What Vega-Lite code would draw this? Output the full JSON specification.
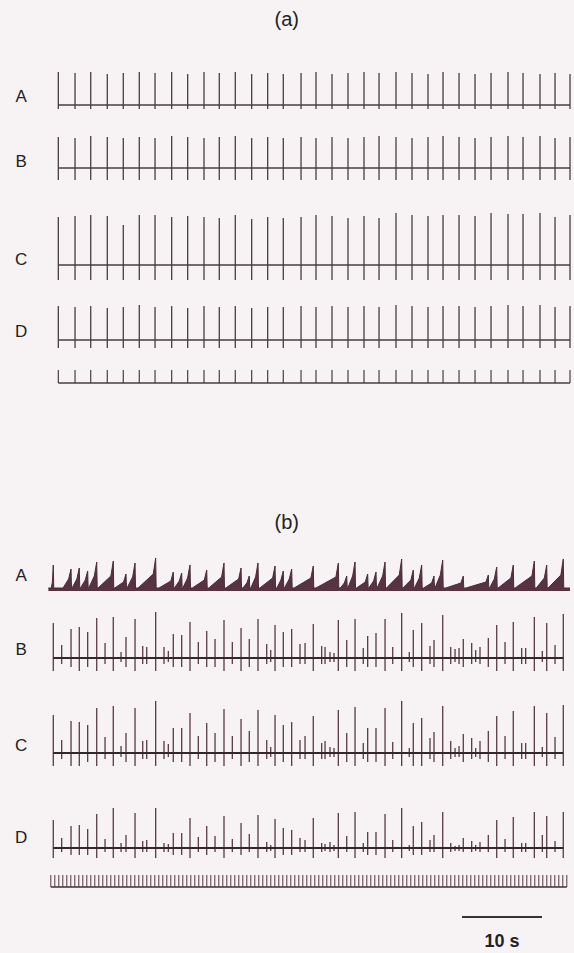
{
"$schema":"https://vega.github.io/schema/vega-lite/v6.json",
"background":"#f7f3f5","padding":0,"spacing":0,"bounds":"flush",
"config":{"view":{"stroke":null},"axis":{"disable":true},"text":{"font":"Liberation Sans"}},
"resolve":{"scale":{"x":"independent","y":"independent"}},
"datasets":{
"a":[{"t":1.04,"A":33,"B":31,"C":48,"D":34},{"t":3.13,"A":32,"B":30,"C":49,"D":33},{"t":5.09,"A":33,"B":32,"C":50,"D":34},{"t":7.16,"A":31,"B":31,"C":49,"D":32},{"t":9.16,"A":32,"B":30,"C":40,"D":33},{"t":11.16,"A":33,"B":31,"C":50,"D":35},{"t":13.13,"A":32,"B":30,"C":50,"D":33},{"t":15.21,"A":33,"B":32,"C":48,"D":34},{"t":17.21,"A":31,"B":31,"C":49,"D":32},{"t":19.25,"A":33,"B":30,"C":48,"D":34},{"t":21.16,"A":32,"B":31,"C":47,"D":33},{"t":23.16,"A":33,"B":32,"C":50,"D":34},{"t":25.21,"A":31,"B":30,"C":46,"D":32},{"t":27.21,"A":32,"B":31,"C":48,"D":33},{"t":29.16,"A":31,"B":30,"C":47,"D":33},{"t":31.38,"A":32,"B":31,"C":48,"D":34},{"t":33.25,"A":33,"B":30,"C":50,"D":33},{"t":35.25,"A":31,"B":31,"C":49,"D":34},{"t":37.25,"A":32,"B":30,"C":47,"D":33},{"t":39.25,"A":33,"B":31,"C":49,"D":34},{"t":41.13,"A":32,"B":32,"C":47,"D":33},{"t":43.25,"A":33,"B":31,"C":52,"D":35},{"t":45.25,"A":32,"B":30,"C":50,"D":34},{"t":47.25,"A":31,"B":31,"C":49,"D":33},{"t":49.13,"A":33,"B":32,"C":50,"D":34},{"t":51.13,"A":32,"B":31,"C":50,"D":34},{"t":53.13,"A":31,"B":30,"C":49,"D":33},{"t":55.13,"A":32,"B":31,"C":52,"D":34},{"t":57.25,"A":33,"B":32,"C":51,"D":35},{"t":59.13,"A":32,"B":31,"C":51,"D":34},{"t":61.25,"A":31,"B":32,"C":52,"D":35},{"t":63.13,"A":32,"B":30,"C":48,"D":33},{"t":65.0,"A":31,"B":31,"C":50,"D":34}],
"b":[{"t":0.41,"B":35,"Bl":-13,"C":38,"Cl":-13,"D":28,"Dl":-10},{"t":1.46,"B":13,"Bl":-6,"C":13,"Cl":-6,"D":10,"Dl":-4},{"t":2.63,"B":29,"Bl":-9,"C":32,"Cl":-13,"D":22,"Dl":-7},{"t":3.66,"B":31,"Bl":-13,"C":31,"Cl":-13,"D":23,"Dl":-7},{"t":4.71,"B":26,"Bl":-9,"C":28,"Cl":-9,"D":19,"Dl":-7},{"t":5.84,"B":40,"Bl":-13,"C":45,"Cl":-13,"D":34,"Dl":-10},{"t":6.88,"B":15,"Bl":-6,"C":16,"Cl":-6,"D":9,"Dl":-4},{"t":7.91,"B":41,"Bl":-13,"C":47,"Cl":-13,"D":40,"Dl":-10},{"t":8.88,"B":6,"Bl":-4,"C":7,"Cl":-4,"D":5,"Dl":-4},{"t":9.5,"B":21,"Bl":-9,"C":20,"Cl":-9,"D":13,"Dl":-4},{"t":10.63,"B":39,"Bl":-13,"C":45,"Cl":-13,"D":35,"Dl":-10},{"t":11.59,"B":12,"Bl":-6,"C":12,"Cl":-6,"D":7,"Dl":-4},{"t":12.09,"B":11,"Bl":-6,"C":13,"Cl":-6,"D":8,"Dl":-4},{"t":13.21,"B":46,"Bl":-13,"C":52,"Cl":-13,"D":40,"Dl":-10},{"t":14.25,"B":11,"Bl":-6,"C":12,"Cl":-6,"D":5,"Dl":-4},{"t":14.79,"B":7,"Bl":-4,"C":9,"Cl":-4,"D":4,"Dl":-4},{"t":15.41,"B":24,"Bl":-9,"C":25,"Cl":-9,"D":15,"Dl":-7},{"t":16.46,"B":23,"Bl":-9,"C":25,"Cl":-9,"D":15,"Dl":-7},{"t":17.5,"B":36,"Bl":-13,"C":40,"Cl":-13,"D":30,"Dl":-10},{"t":18.54,"B":16,"Bl":-6,"C":17,"Cl":-6,"D":11,"Dl":-4},{"t":19.59,"B":27,"Bl":-9,"C":30,"Cl":-13,"D":22,"Dl":-7},{"t":20.63,"B":19,"Bl":-9,"C":20,"Cl":-9,"D":12,"Dl":-4},{"t":21.75,"B":38,"Bl":-13,"C":44,"Cl":-13,"D":32,"Dl":-10},{"t":22.79,"B":16,"Bl":-6,"C":17,"Cl":-6,"D":9,"Dl":-4},{"t":23.88,"B":30,"Bl":-13,"C":34,"Cl":-13,"D":25,"Dl":-7},{"t":24.91,"B":19,"Bl":-9,"C":22,"Cl":-9,"D":14,"Dl":-4},{"t":26.0,"B":39,"Bl":-13,"C":43,"Cl":-13,"D":33,"Dl":-10},{"t":27.09,"B":14,"Bl":-6,"C":13,"Cl":-6,"D":6,"Dl":-4},{"t":27.59,"B":8,"Bl":-4,"C":6,"Cl":-4,"D":3,"Dl":-3},{"t":28.13,"B":33,"Bl":-13,"C":38,"Cl":-13,"D":29,"Dl":-10},{"t":29.16,"B":26,"Bl":-9,"C":28,"Cl":-9,"D":20,"Dl":-7},{"t":30.21,"B":29,"Bl":-9,"C":31,"Cl":-13,"D":18,"Dl":-7},{"t":31.25,"B":14,"Bl":-6,"C":13,"Cl":-6,"D":10,"Dl":-4},{"t":31.88,"B":15,"Bl":-6,"C":17,"Cl":-6,"D":8,"Dl":-4},{"t":32.91,"B":34,"Bl":-13,"C":37,"Cl":-13,"D":30,"Dl":-10},{"t":33.96,"B":12,"Bl":-6,"C":10,"Cl":-6,"D":5,"Dl":-4},{"t":34.38,"B":11,"Bl":-6,"C":12,"Cl":-6,"D":4,"Dl":-3},{"t":35.0,"B":6,"Bl":-4,"C":6,"Cl":-4,"D":6,"Dl":-4},{"t":35.5,"B":5,"Bl":-4,"C":5,"Cl":-4,"D":3,"Dl":-3},{"t":36.04,"B":38,"Bl":-13,"C":43,"Cl":-13,"D":35,"Dl":-10},{"t":37.09,"B":18,"Bl":-9,"C":20,"Cl":-9,"D":12,"Dl":-4},{"t":38.13,"B":39,"Bl":-13,"C":46,"Cl":-13,"D":36,"Dl":-10},{"t":39.16,"B":10,"Bl":-6,"C":10,"Cl":-6,"D":5,"Dl":-4},{"t":39.71,"B":22,"Bl":-9,"C":25,"Cl":-9,"D":16,"Dl":-7},{"t":40.75,"B":25,"Bl":-9,"C":25,"Cl":-9,"D":16,"Dl":-7},{"t":41.88,"B":39,"Bl":-13,"C":45,"Cl":-13,"D":34,"Dl":-10},{"t":42.84,"B":11,"Bl":-6,"C":11,"Cl":-6,"D":8,"Dl":-4},{"t":43.96,"B":45,"Bl":-13,"C":52,"Cl":-13,"D":40,"Dl":-10},{"t":44.91,"B":6,"Bl":-4,"C":5,"Cl":-4,"D":3,"Dl":-3},{"t":45.41,"B":28,"Bl":-9,"C":30,"Cl":-13,"D":22,"Dl":-7},{"t":46.46,"B":35,"Bl":-13,"C":35,"Cl":-13,"D":26,"Dl":-7},{"t":47.5,"B":12,"Bl":-6,"C":15,"Cl":-6,"D":8,"Dl":-4},{"t":48.0,"B":18,"Bl":-9,"C":21,"Cl":-9,"D":13,"Dl":-4},{"t":49.09,"B":43,"Bl":-13,"C":47,"Cl":-13,"D":36,"Dl":-10},{"t":50.09,"B":11,"Bl":-6,"C":12,"Cl":-6,"D":5,"Dl":-4},{"t":50.63,"B":9,"Bl":-4,"C":5,"Cl":-4,"D":2,"Dl":-3},{"t":51.13,"B":10,"Bl":-6,"C":7,"Cl":-4,"D":3,"Dl":-3},{"t":51.66,"B":19,"Bl":-9,"C":19,"Cl":-9,"D":10,"Dl":-4},{"t":52.71,"B":15,"Bl":-6,"C":15,"Cl":-6,"D":7,"Dl":-4},{"t":53.21,"B":8,"Bl":-4,"C":5,"Cl":-4,"D":3,"Dl":-3},{"t":53.75,"B":11,"Bl":-6,"C":12,"Cl":-6,"D":6,"Dl":-4},{"t":54.79,"B":20,"Bl":-9,"C":22,"Cl":-9,"D":13,"Dl":-4},{"t":55.84,"B":33,"Bl":-13,"C":37,"Cl":-13,"D":28,"Dl":-10},{"t":56.88,"B":16,"Bl":-6,"C":17,"Cl":-6,"D":9,"Dl":-4},{"t":57.91,"B":36,"Bl":-13,"C":42,"Cl":-13,"D":31,"Dl":-10},{"t":58.96,"B":10,"Bl":-6,"C":10,"Cl":-6,"D":5,"Dl":-4},{"t":59.46,"B":10,"Bl":-6,"C":10,"Cl":-6,"D":5,"Dl":-4},{"t":60.54,"B":41,"Bl":-13,"C":47,"Cl":-13,"D":36,"Dl":-10},{"t":61.54,"B":7,"Bl":-4,"C":6,"Cl":-4,"D":13,"Dl":-4},{"t":62.09,"B":35,"Bl":-13,"C":40,"Cl":-13,"D":32,"Dl":-10},{"t":63.13,"B":13,"Bl":-6,"C":16,"Cl":-6,"D":7,"Dl":-4},{"t":64.16,"B":44,"Bl":-13,"C":48,"Cl":-13,"D":36,"Dl":-10}],
"bA":[{"t":-0.2,"v":0},{"t":0.15,"v":0},{"t":0.3,"v":6},{"t":0.41,"v":23},{"t":0.47,"v":0},
{"t":1.63,"v":0},{"t":2.33,"v":9},{"t":2.63,"v":19},{"t":2.69,"v":0},
{"t":2.76,"v":0},{"t":3.36,"v":9},{"t":3.66,"v":20},{"t":3.72,"v":0},
{"t":3.81,"v":0},{"t":4.41,"v":8},{"t":4.71,"v":17},{"t":4.77,"v":0},
{"t":4.84,"v":0},{"t":5.54,"v":12},{"t":5.84,"v":26},{"t":5.9,"v":0},
{"t":6.01,"v":0},{"t":7.61,"v":12},{"t":7.91,"v":27},{"t":7.97,"v":0},
{"t":8.1,"v":0},{"t":9.2,"v":6},{"t":9.5,"v":14},{"t":9.56,"v":0},
{"t":9.63,"v":0},{"t":10.33,"v":11},{"t":10.63,"v":25},{"t":10.69,"v":0},
{"t":11.01,"v":0},{"t":12.91,"v":14},{"t":13.21,"v":30},{"t":13.27,"v":0},
{"t":13.61,"v":0},{"t":15.11,"v":7},{"t":15.41,"v":16},{"t":15.47,"v":0},
{"t":15.56,"v":0},{"t":16.16,"v":7},{"t":16.46,"v":15},{"t":16.52,"v":0},
{"t":16.6,"v":0},{"t":17.2,"v":10},{"t":17.5,"v":23},{"t":17.56,"v":0},
{"t":17.79,"v":0},{"t":19.29,"v":8},{"t":19.59,"v":18},{"t":19.65,"v":0},
{"t":19.85,"v":0},{"t":21.45,"v":11},{"t":21.75,"v":25},{"t":21.81,"v":0},
{"t":21.98,"v":0},{"t":23.58,"v":9},{"t":23.88,"v":20},{"t":23.94,"v":0},
{"t":24.11,"v":0},{"t":24.61,"v":5},{"t":24.91,"v":12},{"t":24.97,"v":0},
{"t":25.1,"v":0},{"t":25.7,"v":11},{"t":26.0,"v":25},{"t":26.06,"v":0},
{"t":26.23,"v":0},{"t":27.83,"v":10},{"t":28.13,"v":22},{"t":28.19,"v":0},
{"t":28.36,"v":0},{"t":28.86,"v":8},{"t":29.16,"v":17},{"t":29.22,"v":0},
{"t":29.31,"v":0},{"t":29.91,"v":9},{"t":30.21,"v":19},{"t":30.27,"v":0},
{"t":30.51,"v":0},{"t":32.61,"v":10},{"t":32.91,"v":22},{"t":32.97,"v":0},
{"t":33.24,"v":0},{"t":35.74,"v":11},{"t":36.04,"v":25},{"t":36.1,"v":0},
{"t":36.29,"v":0},{"t":36.79,"v":5},{"t":37.09,"v":12},{"t":37.15,"v":0},
{"t":37.23,"v":0},{"t":37.83,"v":12},{"t":38.13,"v":26},{"t":38.19,"v":0},
{"t":38.31,"v":0},{"t":39.41,"v":6},{"t":39.71,"v":14},{"t":39.77,"v":0},
{"t":39.85,"v":0},{"t":40.45,"v":7},{"t":40.75,"v":16},{"t":40.81,"v":0},
{"t":40.88,"v":0},{"t":41.58,"v":12},{"t":41.88,"v":26},{"t":41.94,"v":0},
{"t":42.06,"v":0},{"t":43.66,"v":13},{"t":43.96,"v":29},{"t":44.02,"v":0},
{"t":44.11,"v":0},{"t":45.11,"v":8},{"t":45.41,"v":18},{"t":45.47,"v":0},
{"t":45.56,"v":0},{"t":46.16,"v":10},{"t":46.46,"v":23},{"t":46.52,"v":0},
{"t":46.7,"v":0},{"t":47.7,"v":5},{"t":48.0,"v":12},{"t":48.06,"v":0},
{"t":48.12,"v":0},{"t":48.79,"v":13},{"t":49.09,"v":28},{"t":49.15,"v":0},
{"t":49.46,"v":0},{"t":51.36,"v":5},{"t":51.66,"v":12},{"t":51.72,"v":0},
{"t":51.99,"v":0},{"t":54.49,"v":6},{"t":54.79,"v":13},{"t":54.85,"v":0},
{"t":54.94,"v":0},{"t":55.54,"v":9},{"t":55.84,"v":21},{"t":55.9,"v":0},
{"t":56.01,"v":0},{"t":57.61,"v":10},{"t":57.91,"v":23},{"t":57.97,"v":0},
{"t":58.14,"v":0},{"t":60.24,"v":12},{"t":60.54,"v":27},{"t":60.6,"v":0},
{"t":60.79,"v":0},{"t":61.79,"v":10},{"t":62.09,"v":23},{"t":62.15,"v":0},
{"t":62.26,"v":0},{"t":63.86,"v":13},{"t":64.16,"v":29},{"t":64.22,"v":0},
{"t":65.0,"v":0}],
"mk":[{"t":0.1},{"t":0.6},{"t":1.1},{"t":1.6},{"t":2.1},{"t":2.6},{"t":3.1},{"t":3.6},{"t":4.1},{"t":4.6},{"t":5.1},{"t":5.6},{"t":6.1},{"t":6.6},{"t":7.1},{"t":7.6},{"t":8.1},{"t":8.6},{"t":9.1},{"t":9.6},{"t":10.1},{"t":10.6},{"t":11.1},{"t":11.6},{"t":12.1},{"t":12.6},{"t":13.1},{"t":13.6},{"t":14.1},{"t":14.6},{"t":15.1},{"t":15.6},{"t":16.1},{"t":16.6},{"t":17.1},{"t":17.6},{"t":18.1},{"t":18.6},{"t":19.1},{"t":19.6},{"t":20.1},{"t":20.6},{"t":21.1},{"t":21.6},{"t":22.1},{"t":22.6},{"t":23.1},{"t":23.6},{"t":24.1},{"t":24.6},{"t":25.1},{"t":25.6},{"t":26.1},{"t":26.6},{"t":27.1},{"t":27.6},{"t":28.1},{"t":28.6},{"t":29.1},{"t":29.6},{"t":30.1},{"t":30.6},{"t":31.1},{"t":31.6},{"t":32.1},{"t":32.6},{"t":33.1},{"t":33.6},{"t":34.1},{"t":34.6},{"t":35.1},{"t":35.6},{"t":36.1},{"t":36.6},{"t":37.1},{"t":37.6},{"t":38.1},{"t":38.6},{"t":39.1},{"t":39.6},{"t":40.1},{"t":40.6},{"t":41.1},{"t":41.6},{"t":42.1},{"t":42.6},{"t":43.1},{"t":43.6},{"t":44.1},{"t":44.6},{"t":45.1},{"t":45.6},{"t":46.1},{"t":46.6},{"t":47.1},{"t":47.6},{"t":48.1},{"t":48.6},{"t":49.1},{"t":49.6},{"t":50.1},{"t":50.6},{"t":51.1},{"t":51.6},{"t":52.1},{"t":52.6},{"t":53.1},{"t":53.6},{"t":54.1},{"t":54.6},{"t":55.1},{"t":55.6},{"t":56.1},{"t":56.6},{"t":57.1},{"t":57.6},{"t":58.1},{"t":58.6},{"t":59.1},{"t":59.6},{"t":60.1},{"t":60.6},{"t":61.1},{"t":61.6},{"t":62.1},{"t":62.6},{"t":63.1},{"t":63.6},{"t":64.1},{"t":64.6}]
},
"vconcat":[
{"width":574,"height":55,"data":{"values":[{"s":"(a)"}]},"mark":{"type":"text","fontSize":20,"color":"#222222"},
 "encoding":{"x":{"datum":29.6,"type":"quantitative","scale":{"domain":[-6.25,65.5],"nice":false,"zero":false}},"y":{"datum":35,"type":"quantitative","scale":{"domain":[0,55],"nice":false,"zero":false}},"text":{"field":"s"}}},
{"width":574,"height":65,"layer":[
 {"data":{"name":"a"},"mark":{"type":"line","color":"#4a3d42","strokeWidth":1.3},"encoding":{"x":{"field":"t","type":"quantitative","scale":{"domain":[-6.25,65.5],"nice":false,"zero":false}},"y":{"datum":0,"type":"quantitative","scale":{"domain":[-15,50],"nice":false,"zero":false}}}},
 {"data":{"name":"a"},"mark":{"type":"rule","color":"#4a3d42","strokeWidth":1.3},"encoding":{"x":{"field":"t","type":"quantitative","scale":{"domain":[-6.25,65.5],"nice":false,"zero":false}},"y":{"field":"A","type":"quantitative","scale":{"domain":[-15,50],"nice":false,"zero":false}},"y2":{"datum":-4}}},
 {"data":{"values":[{"s":"A"}]},"mark":{"type":"text","fontSize":17,"color":"#222222"},"encoding":{"x":{"datum":-3.6,"type":"quantitative","scale":{"domain":[-6.25,65.5],"nice":false,"zero":false}},"y":{"datum":8,"type":"quantitative","scale":{"domain":[-15,50],"nice":false,"zero":false}},"text":{"field":"s"}}}
]},
{"width":574,"height":70,"layer":[
 {"data":{"name":"a"},"mark":{"type":"line","color":"#4a3d42","strokeWidth":1.4},"encoding":{"x":{"field":"t","type":"quantitative","scale":{"domain":[-6.25,65.5],"nice":false,"zero":false}},"y":{"datum":0,"type":"quantitative","scale":{"domain":[-22,48],"nice":false,"zero":false}}}},
 {"data":{"name":"a"},"mark":{"type":"rule","color":"#4a3d42","strokeWidth":1.3},"encoding":{"x":{"field":"t","type":"quantitative","scale":{"domain":[-6.25,65.5],"nice":false,"zero":false}},"y":{"field":"B","type":"quantitative","scale":{"domain":[-22,48],"nice":false,"zero":false}},"y2":{"datum":-12}}},
 {"data":{"values":[{"s":"B"}]},"mark":{"type":"text","fontSize":17,"color":"#222222"},"encoding":{"x":{"datum":-3.6,"type":"quantitative","scale":{"domain":[-6.25,65.5],"nice":false,"zero":false}},"y":{"datum":6,"type":"quantitative","scale":{"domain":[-22,48],"nice":false,"zero":false}},"text":{"field":"s"}}}
]},
{"width":574,"height":110,"layer":[
 {"data":{"name":"a"},"mark":{"type":"line","color":"#4a3d42","strokeWidth":1.4},"encoding":{"x":{"field":"t","type":"quantitative","scale":{"domain":[-6.25,65.5],"nice":false,"zero":false}},"y":{"datum":0,"type":"quantitative","scale":{"domain":[-35,75],"nice":false,"zero":false}}}},
 {"data":{"name":"a"},"mark":{"type":"rule","color":"#4a3d42","strokeWidth":1.3},"encoding":{"x":{"field":"t","type":"quantitative","scale":{"domain":[-6.25,65.5],"nice":false,"zero":false}},"y":{"field":"C","type":"quantitative","scale":{"domain":[-35,75],"nice":false,"zero":false}},"y2":{"datum":-15}}},
 {"data":{"values":[{"s":"C"}]},"mark":{"type":"text","fontSize":17,"color":"#222222"},"encoding":{"x":{"datum":-3.6,"type":"quantitative","scale":{"domain":[-6.25,65.5],"nice":false,"zero":false}},"y":{"datum":5,"type":"quantitative","scale":{"domain":[-35,75],"nice":false,"zero":false}},"text":{"field":"s"}}}
]},
{"width":574,"height":60,"layer":[
 {"data":{"name":"a"},"mark":{"type":"line","color":"#4a3d42","strokeWidth":1.4},"encoding":{"x":{"field":"t","type":"quantitative","scale":{"domain":[-6.25,65.5],"nice":false,"zero":false}},"y":{"datum":0,"type":"quantitative","scale":{"domain":[-20,40],"nice":false,"zero":false}}}},
 {"data":{"name":"a"},"mark":{"type":"rule","color":"#4a3d42","strokeWidth":1.3},"encoding":{"x":{"field":"t","type":"quantitative","scale":{"domain":[-6.25,65.5],"nice":false,"zero":false}},"y":{"field":"D","type":"quantitative","scale":{"domain":[-20,40],"nice":false,"zero":false}},"y2":{"datum":-8}}},
 {"data":{"values":[{"s":"D"}]},"mark":{"type":"text","fontSize":17,"color":"#222222"},"encoding":{"x":{"datum":-3.6,"type":"quantitative","scale":{"domain":[-6.25,65.5],"nice":false,"zero":false}},"y":{"datum":8,"type":"quantitative","scale":{"domain":[-20,40],"nice":false,"zero":false}},"text":{"field":"s"}}}
]},
{"width":574,"height":35,"layer":[
 {"data":{"name":"a"},"mark":{"type":"line","color":"#4a3d42","strokeWidth":1.4},"encoding":{"x":{"field":"t","type":"quantitative","scale":{"domain":[-6.25,65.5],"nice":false,"zero":false}},"y":{"datum":0,"type":"quantitative","scale":{"domain":[-12,23],"nice":false,"zero":false}}}},
 {"data":{"name":"a"},"mark":{"type":"rule","color":"#4a3d42","strokeWidth":1.2},"encoding":{"x":{"field":"t","type":"quantitative","scale":{"domain":[-6.25,65.5],"nice":false,"zero":false}},"y":{"datum":13,"type":"quantitative","scale":{"domain":[-12,23],"nice":false,"zero":false}},"y2":{"datum":0}}}
]},
{"width":574,"height":150,"data":{"values":[{"s":"(b)"}]},"mark":{"type":"text","fontSize":20,"color":"#222222"},
 "encoding":{"x":{"datum":29.6,"type":"quantitative","scale":{"domain":[-6.25,65.5],"nice":false,"zero":false}},"y":{"datum":22,"type":"quantitative","scale":{"domain":[0,150],"nice":false,"zero":false}},"text":{"field":"s"}}},
{"width":574,"height":55,"layer":[
 {"data":{"name":"bA"},"mark":{"type":"area","color":"#573341","opacity":1,"line":{"color":"#4a2c38","strokeWidth":1}},"encoding":{"x":{"field":"t","type":"quantitative","scale":{"domain":[-6.25,65.5],"nice":false,"zero":false}},"y":{"field":"v","type":"quantitative","scale":{"domain":[-12,43],"nice":false,"zero":false}},"y2":{"datum":-3}}},
 {"data":{"values":[{"s":"A"}]},"mark":{"type":"text","fontSize":17,"color":"#222222"},"encoding":{"x":{"datum":-3.6,"type":"quantitative","scale":{"domain":[-6.25,65.5],"nice":false,"zero":false}},"y":{"datum":12,"type":"quantitative","scale":{"domain":[-12,43],"nice":false,"zero":false}},"text":{"field":"s"}}}
]},
{"width":574,"height":80,"layer":[
 {"data":{"name":"b"},"mark":{"type":"rule","color":"#583a47","strokeWidth":1.3},"encoding":{"x":{"field":"t","type":"quantitative","scale":{"domain":[-6.25,65.5],"nice":false,"zero":false}},"y":{"field":"B","type":"quantitative","scale":{"domain":[-22,58],"nice":false,"zero":false}},"y2":{"field":"Bl"}}},
 {"data":{"name":"b"},"mark":{"type":"line","color":"#35252c","strokeWidth":1.8},"encoding":{"x":{"field":"t","type":"quantitative","scale":{"domain":[-6.25,65.5],"nice":false,"zero":false}},"y":{"datum":0,"type":"quantitative","scale":{"domain":[-22,58],"nice":false,"zero":false}}}},
 {"data":{"values":[{"s":"B"}]},"mark":{"type":"text","fontSize":17,"color":"#222222"},"encoding":{"x":{"datum":-3.6,"type":"quantitative","scale":{"domain":[-6.25,65.5],"nice":false,"zero":false}},"y":{"datum":8,"type":"quantitative","scale":{"domain":[-22,58],"nice":false,"zero":false}},"text":{"field":"s"}}}
]},
{"width":574,"height":95,"layer":[
 {"data":{"name":"b"},"mark":{"type":"rule","color":"#583a47","strokeWidth":1.3},"encoding":{"x":{"field":"t","type":"quantitative","scale":{"domain":[-6.25,65.5],"nice":false,"zero":false}},"y":{"field":"C","type":"quantitative","scale":{"domain":[-22,73],"nice":false,"zero":false}},"y2":{"field":"Cl"}}},
 {"data":{"name":"b"},"mark":{"type":"line","color":"#35252c","strokeWidth":1.8},"encoding":{"x":{"field":"t","type":"quantitative","scale":{"domain":[-6.25,65.5],"nice":false,"zero":false}},"y":{"datum":0,"type":"quantitative","scale":{"domain":[-22,73],"nice":false,"zero":false}}}},
 {"data":{"values":[{"s":"C"}]},"mark":{"type":"text","fontSize":17,"color":"#222222"},"encoding":{"x":{"datum":-3.6,"type":"quantitative","scale":{"domain":[-6.25,65.5],"nice":false,"zero":false}},"y":{"datum":7,"type":"quantitative","scale":{"domain":[-22,73],"nice":false,"zero":false}},"text":{"field":"s"}}}
]},
{"width":574,"height":91,"layer":[
 {"data":{"name":"b"},"mark":{"type":"rule","color":"#583a47","strokeWidth":1.3},"encoding":{"x":{"field":"t","type":"quantitative","scale":{"domain":[-6.25,65.5],"nice":false,"zero":false}},"y":{"field":"D","type":"quantitative","scale":{"domain":[-18,73],"nice":false,"zero":false}},"y2":{"field":"Dl"}}},
 {"data":{"name":"b"},"mark":{"type":"line","color":"#35252c","strokeWidth":1.8},"encoding":{"x":{"field":"t","type":"quantitative","scale":{"domain":[-6.25,65.5],"nice":false,"zero":false}},"y":{"datum":0,"type":"quantitative","scale":{"domain":[-18,73],"nice":false,"zero":false}}}},
 {"data":{"values":[{"s":"D"}]},"mark":{"type":"text","fontSize":17,"color":"#222222"},"encoding":{"x":{"datum":-3.6,"type":"quantitative","scale":{"domain":[-6.25,65.5],"nice":false,"zero":false}},"y":{"datum":10,"type":"quantitative","scale":{"domain":[-18,73],"nice":false,"zero":false}},"text":{"field":"s"}}}
]},
{"width":574,"height":29,"layer":[
 {"data":{"name":"mk"},"mark":{"type":"rule","color":"#553844","strokeWidth":1},"encoding":{"x":{"field":"t","type":"quantitative","scale":{"domain":[-6.25,65.5],"nice":false,"zero":false}},"y":{"datum":12,"type":"quantitative","scale":{"domain":[-8,21],"nice":false,"zero":false}},"y2":{"datum":0}}},
 {"data":{"name":"mk"},"mark":{"type":"line","color":"#432d37","strokeWidth":1.4},"encoding":{"x":{"field":"t","type":"quantitative","scale":{"domain":[-6.25,65.5],"nice":false,"zero":false}},"y":{"datum":0,"type":"quantitative","scale":{"domain":[-8,21],"nice":false,"zero":false}}}}
]},
{"width":574,"height":58,"layer":[
 {"data":{"values":[{"s":"10 s"}]},"mark":{"type":"rule","color":"#333333","strokeWidth":2},"encoding":{"x":{"datum":51.5,"type":"quantitative","scale":{"domain":[-6.25,65.5],"nice":false,"zero":false}},"x2":{"datum":61.5},"y":{"datum":36,"type":"quantitative","scale":{"domain":[0,58],"nice":false,"zero":false}}}},
 {"data":{"values":[{"s":"10 s"}]},"mark":{"type":"text","fontSize":18,"fontWeight":"bold","color":"#222222"},"encoding":{"x":{"datum":56.5,"type":"quantitative","scale":{"domain":[-6.25,65.5],"nice":false,"zero":false}},"y":{"datum":11,"type":"quantitative","scale":{"domain":[0,58],"nice":false,"zero":false}},"text":{"field":"s"}}}
]}
]
}
